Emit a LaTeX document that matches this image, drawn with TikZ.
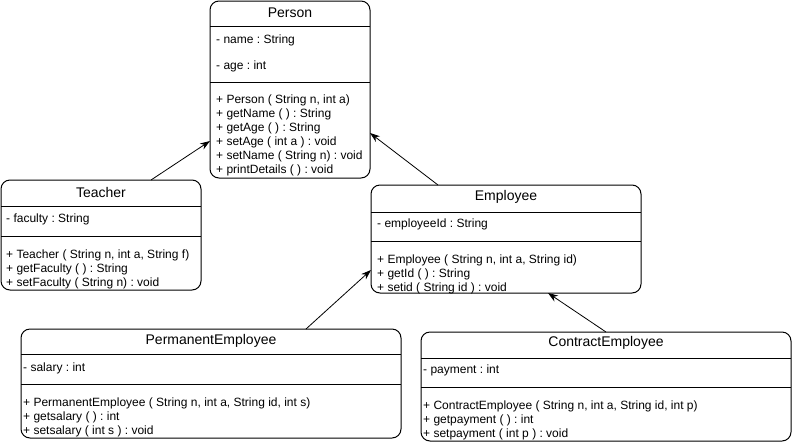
\documentclass[tikz,border=0pt]{standalone}
\usepackage{fontspec}
\setmainfont{Liberation Sans}
\frenchspacing
\usetikzlibrary{arrows.meta}
\tikzstyle{classbox} = [rectangle, rounded corners=9pt, draw=black, line width=1pt, outer sep=0pt, anchor=north west]
\tikzstyle{classname} = [font=\fontsize{14}{16}\selectfont, inner sep=0pt]
\tikzstyle{member} = [font=\fontsize{12}{14}\selectfont, align=left, anchor=west, inner sep=0pt]
\tikzstyle{divider} = [line width=1pt]
\tikzstyle{arrow} = [line width=0.8pt, -{Stealth[length=10pt, width=7pt]}]

\begin{document}
\begin{tikzpicture}[x=1pt, y=-1pt]
    \useasboundingbox (0,0) rectangle (792,445);

        % Classes
        \node (person) [classbox, minimum width=160pt, minimum height=177pt] at (210,1) {};
        \node (teacher) [classbox, minimum width=200pt, minimum height=110pt] at (1,180) {};
        \node (employee) [classbox, minimum width=270pt, minimum height=108pt] at (371,185) {};
        \node (permanent) [classbox, minimum width=380pt, minimum height=109pt] at (21,329) {};
        \node (contract) [classbox, minimum width=370pt, minimum height=109pt] at (421,332) {};

        % Dividers
        \draw [divider] (person.west |- 0,26) -- (person.east |- 0,26);
        \draw [divider] (person.west |- 0,82) -- (person.east |- 0,82);
        \draw [divider] (teacher.west |- 0,206.5) -- (teacher.east |- 0,206.5);
        \draw [divider] (teacher.west |- 0,236.5) -- (teacher.east |- 0,236.5);
        \draw [divider] (employee.west |- 0,212) -- (employee.east |- 0,212);
        \draw [divider] (employee.west |- 0,241.7) -- (employee.east |- 0,241.7);
        \draw [divider] (permanent.west |- 0,354.3) -- (permanent.east |- 0,354.3);
        \draw [divider] (permanent.west |- 0,384.3) -- (permanent.east |- 0,384.3);
        \draw [divider] (contract.west |- 0,358) -- (contract.east |- 0,358);
        \draw [divider] (contract.west |- 0,387.5) -- (contract.east |- 0,387.5);

        % Person
        \node (persontitle) [classname] at (person.north |- 0,13) {Person};
        \node (personname) [member] at (216,40.5) {- name : String};
        \node (personage) [member] at (216,66) {- age : int};
        \node (personops) [member] at (216,135.5) {+ Person ( String n, int a)\\+ getName ( ) : String\\+ getAge ( ) : String\\+ setAge ( int a ) : void\\+ setName ( String n) : void\\+ printDetails ( ) : void};

        % Teacher
        \node (teachertitle) [classname] at (teacher.north |- 0,192) {Teacher};
        \node (teacherattr) [member] at (6,219.5) {- faculty : String};
        \node (teacherops) [member] at (6,269.2) {+ Teacher ( String n, int a, String f)\\+ getFaculty ( ) : String\\+ setFaculty ( String n) : void};

        % Employee
        \node (employeetitle) [classname] at (employee.north |- 0,197) {Employee};
        \node (employeeattr) [member] at (377,224.8) {- employeeId : String};
        \node (employeeops) [member] at (377,274.2) {+ Employee ( String n, int a, String id)\\+ getId ( ) : String\\+ setid ( String id ) : void};

        % PermanentEmployee
        \node (permanenttitle) [classname] at (permanent.north |- 0,341) {PermanentEmployee};
        \node (permanentattr) [member] at (23,368.2) {- salary : int};
        \node (permanentops) [member] at (23,416.9) {+ PermanentEmployee ( String n, int a, String id, int s)\\+ getsalary ( ) : int\\+ setsalary ( int s ) : void};

        % ContractEmployee
        \node (contracttitle) [classname] at (contract.north |- 0,343) {ContractEmployee};
        \node (contractattr) [member] at (423,370.5) {- payment : int};
        \node (contractops) [member] at (423,420.2) {+ ContractEmployee ( String n, int a, String id, int p)\\+ getpayment ( ) : int\\+ setpayment ( int p ) : void};

        % Arrows
        \draw [arrow] ([xshift=50pt]teacher.north) -- ([yshift=-51.5pt]person.west);
        \draw [arrow] ([xshift=-68pt]employee.north) -- ([yshift=-43.5pt]person.east);
        \draw [arrow] ([xshift=95pt]permanent.north) -- ([yshift=-31pt]employee.west);
        \draw [arrow] (contract.north) -- ([xshift=42pt]employee.south);

    \end{tikzpicture}
\end{document}
